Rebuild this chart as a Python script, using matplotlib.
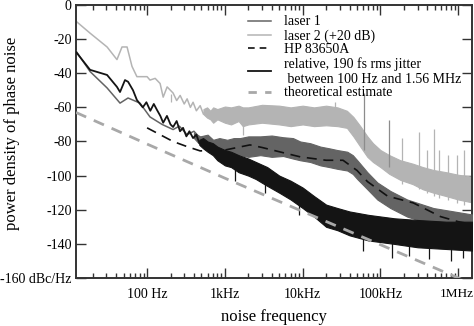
import matplotlib
matplotlib.use("Agg")
import matplotlib.pyplot as plt
import matplotlib.ticker as mticker
import matplotlib.transforms as mtransforms
from matplotlib.lines import Line2D

# ── Colours ───────────────────────────────────────────────────────────────────
LASER1_COLOR = "#646464"
LASER2_COLOR = "#b4b4b4"
REL_COLOR    = "#141414"
HP_COLOR     = "#111111"
THEORY_COLOR = "#a8a8a8"
AXIS_COLOR   = "#333333"

plt.rcParams["font.family"] = ["Liberation Serif", "DejaVu Serif"]

# ── Data ──────────────────────────────────────────────────────────────────────
# laser 2 (+20 dB): single trace at low frequency, then a noisy band
laser2_line_f  = [12.2, 18.5, 30.6, 41, 47.6, 55.3, 64, 74, 100, 109, 127,
                  147, 161, 181, 216, 240, 266, 300, 327, 360, 390, 430, 481,
                  530, 590]
laser2_line_db = [-9.5, -16.5, -24.6, -32, -24.6, -24.6, -36, -42, -42, -44,
                  -43, -46, -54, -48, -51.6, -56, -53, -58, -55, -60, -57,
                  -62, -59, -64, -61]
laser2_band_f  = [530, 590, 650, 707, 800, 1000, 1200, 1500, 1700, 2000, 3000,
                  5000, 7000, 10000, 14000, 20000, 28000, 37000, 44800, 55000,
                  67800, 80000, 99800, 130000, 180000, 260000, 350000, 479000,
                  700000, 1000000, 1620000]
laser2_band_hi = [-61, -60, -62, -60, -61, -59.5, -60, -59, -60, -60, -58.5,
                  -59, -60, -59, -60, -59, -60, -62, -65.6, -71, -77, -81,
                  -85, -88, -91, -93, -95, -96.7, -98, -99.5, -100.8]
laser2_band_lo = [-64, -66, -67, -69, -67, -69, -70, -68, -71, -70, -69,
                  -70, -71, -70, -71, -70.5, -71, -72, -77, -83, -89, -92,
                  -95, -99, -102.5, -105, -108, -110, -112, -114, -116]

# laser 1
laser1_line_f  = [12.2, 18.5, 30.6, 44.9, 56.9, 81, 109, 156, 216, 260, 327,
                  400, 481]
laser1_line_db = [-27, -39, -48.6, -57.5, -54.5, -57.5, -65.6, -70, -73,
                  -71, -76, -74, -78]
laser1_band_f  = [400, 481, 600, 707, 850, 1070, 1300, 1570, 2000, 2850, 4000,
                  5600, 7500, 9300, 12500, 16900, 22000, 27800, 37400, 44000,
                  50300, 67800, 91000, 134000, 220000, 479000, 1620000]
laser1_band_hi = [-75, -77, -76, -79, -78, -79, -78, -78, -77, -77, -76.5,
                  -77.5, -78, -80, -81, -83, -84, -85, -86, -88, -91, -98,
                  -104, -109, -114, -119, -123]
laser1_band_lo = [-78, -82, -84, -86, -87, -88, -89, -88, -89, -88, -89,
                  -88.5, -90, -91, -92, -94, -95, -96, -97, -99, -102, -108,
                  -114, -119, -124, -129, -133]

# HP 83650A
hp_f  = [100, 147, 216, 327, 481, 1000, 2100, 3000, 5000, 9300, 20000, 33000,
         50000, 68000, 123000, 264000, 590000, 1000000, 1500000]
hp_db = [-72, -76, -80, -83, -85.5, -85, -82, -83.5, -86, -89, -91, -91,
         -97, -103.5, -112, -116, -124, -127, -128.5]

# relative, 190 fs rms jitter
rel_line_f  = [12.2, 18.5, 30.6, 41, 44.9, 52, 57, 66, 74, 88, 98, 110, 122,
               134, 148, 161, 180, 200, 216, 240, 265, 290, 320, 350, 390,
               430, 470, 525]
rel_line_db = [-27.5, -38, -41, -48, -51, -44, -45, -50, -55.7, -60, -57,
               -62, -58, -61.5, -65, -69, -65, -70, -71.5, -68, -74, -72,
               -77, -74, -78, -76, -81, -79]
rel_band_f  = [470, 525, 600, 700, 800, 1000, 1200, 1500, 2000, 2500, 3500,
               5000, 7000, 10000, 14000, 20000, 28000, 40000, 70000,
               150000, 300000, 700000, 1620000]
rel_band_hi = [-79, -78, -80, -81, -83, -85, -86, -88, -90, -92, -95,
               -100, -103, -107, -112, -117, -119, -121, -123, -125,
               -126, -127, -127]
rel_band_lo = [-82, -84, -86, -88, -91, -94, -95, -98, -100, -102, -106,
               -110, -114, -119, -124, -130, -132, -135, -138, -140,
               -142, -143, -144]

# downward spikes in the relative trace
rel_dip_f    = [1340, 3300, 9000, 60000, 140000, 230000, 420000, 800000,
                1150000]
rel_dip_top  = [-94, -104, -117, -136, -139, -141, -142, -142, -143]
rel_dip_bot  = [-103, -110, -123, -144, -148, -147, -149, -150, -148]

# theoretical estimate
theory_f  = [12.2, 100, 1000, 10000, 100000, 1000000, 1120000]
theory_db = [-63, -81.5, -101.5, -121, -140.5, -160, -161]

# spurs above the noise bands
spur_f    = [25700, 62000, 127000, 191000, 316000, 400000, 490000, 570000,
             730000, 975000, 1200000]
spur_top  = [-57, -51.5, -67.4, -78, -74.5, -85, -72.7, -85, -88, -88, -85]
spur_base = [-70, -85, -95, -105, -108, -110, -112, -113, -114, -116, -117]
spur_col  = [LASER2_COLOR, "#8c8c8c", "#8c8c8c", LASER2_COLOR, LASER2_COLOR,
             LASER2_COLOR, LASER2_COLOR, LASER2_COLOR, LASER2_COLOR,
             LASER2_COLOR, LASER2_COLOR]
laser2_dip_f   = [1700, 200]
laser2_dip_top = [-66, -52]
laser2_dip_bot = [-76, -57]

x_ticks  = [100, 1000, 10000, 100000, 1000000]
x_labels = ["100 Hz", "1kHz", "10kHz", "100kHz", "1MHz"]
y_ticks  = [0, -20, -40, -60, -80, -100, -120, -140, -160]
y_labels = ["0", "-20", "-40", "-60", "-80", "-100", "-120", "-140",
            "-160 dBc/Hz"]

# ── Figure ────────────────────────────────────────────────────────────────────
fig = plt.figure(figsize=(4.74, 3.26), dpi=100)
ax = fig.add_axes([76 / 474, 48 / 326, 396 / 474, 273 / 326])

# laser 2
ax.plot(laser2_line_f, laser2_line_db, color=LASER2_COLOR, lw=1.1, zorder=2)
ax.fill_between(laser2_band_f, laser2_band_lo, laser2_band_hi,
                color=LASER2_COLOR, lw=0.8, zorder=2)
for f, top, base, c in zip(spur_f, spur_top, spur_base, spur_col):
    ax.vlines(f, base, top, color=c, lw=0.9, zorder=2)
ax.vlines(laser2_dip_f, laser2_dip_top, laser2_dip_bot, color=LASER2_COLOR,
          lw=0.9, zorder=2)

# laser 1
ax.plot(laser1_line_f, laser1_line_db, color=LASER1_COLOR, lw=1.1, zorder=3)
ax.fill_between(laser1_band_f, laser1_band_lo, laser1_band_hi,
                color=LASER1_COLOR, lw=0.8, zorder=3)

# HP 83650A
ax.plot(hp_f, hp_db, color=HP_COLOR, lw=1.2, dashes=(6, 4), zorder=4)

# relative
ax.plot(rel_line_f, rel_line_db, color=REL_COLOR, lw=1.3, zorder=5)
ax.fill_between(rel_band_f, rel_band_lo, rel_band_hi,
                color=REL_COLOR, lw=0.8, zorder=5)
ax.vlines(rel_dip_f, rel_dip_top, rel_dip_bot, color=REL_COLOR, lw=0.9,
          zorder=5)

# theoretical estimate
ax.plot(theory_f, theory_db, color=THEORY_COLOR, lw=2.0, dashes=(4, 3),
        zorder=6)

ax.set_xscale("log")
ax.set_xlim(12.2, 1.5e6)
ax.set_ylim(-160, 0)
ax.set_xticks(x_ticks)
ax.set_xticklabels(x_labels)
ax.xaxis.set_minor_locator(mticker.LogLocator(base=10, subs=range(2, 10)))
ax.xaxis.set_minor_formatter(mticker.NullFormatter())
ax.set_yticks(y_ticks)
ax.set_yticklabels(y_labels)

ax.tick_params(which="both", direction="in", top=True, right=True,
               color=AXIS_COLOR, labelsize=10, width=1.0)
ax.tick_params(which="major", length=7)
ax.tick_params(which="minor", length=3.5)
ax.tick_params(axis="x", which="major", pad=7)
ax.tick_params(axis="y", which="major", pad=3)
# last label sits at the right edge of the figure: nudge it left a little
last = ax.get_xticklabels()[-1]
last.set_fontsize(9.5)
last.set_transform(last.get_transform()
                   + mtransforms.ScaledTranslation(-0.02, 0, fig.dpi_scale_trans))
for sp in ax.spines.values():
    sp.set_color(AXIS_COLOR)
    sp.set_linewidth(1.4)

ax.set_xlabel("noise frequency", fontsize=12, labelpad=6)
ax.set_ylabel("power density of phase noise", fontsize=12)
ax.yaxis.set_label_coords(-0.141, 0.53)

handles = [
    Line2D([], [], color=LASER1_COLOR, lw=1.1),
    Line2D([], [], color=LASER2_COLOR, lw=1.1),
    Line2D([], [], color=HP_COLOR, lw=1.2, dashes=(4, 3)),
    Line2D([], [], color=REL_COLOR, lw=1.3),
    Line2D([], [], color=THEORY_COLOR, lw=2.0, dashes=(3, 3)),
]
labels = ["laser 1", "laser 2 (+20 dB)", "HP 83650A",
          "relative, 190 fs rms jitter\n between 100 Hz and 1.56 MHz",
          "theoretical estimate"]
ax.legend(handles, labels, loc="upper left", bbox_to_anchor=(0.434, 0.962),
          frameon=False, fontsize=10, handlelength=1.7, handletextpad=0.9,
          borderpad=0, borderaxespad=0, labelspacing=0.05)

fig.savefig("out.png", dpi=100)
